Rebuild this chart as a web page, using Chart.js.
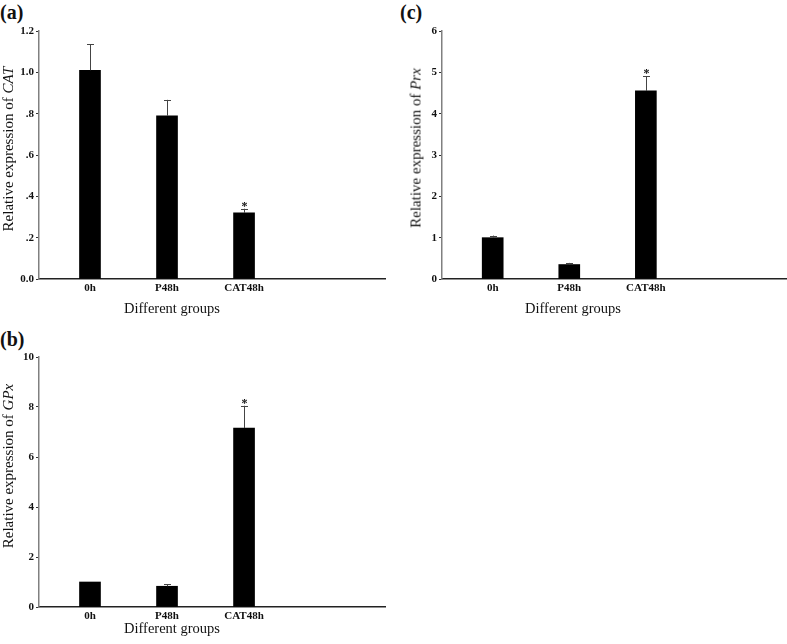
<!DOCTYPE html>
<html>
<head>
<meta charset="utf-8">
<script src="https://cdn.jsdelivr.net/npm/chart.js@4"></script>
<style>
  body {
    margin: 0;
    width: 787px;
    height: 644px;
    position: relative;
    overflow: hidden;
    background: #fff;
    color: #111;
    font-family: "Liberation Serif", "Times New Roman", serif;
  }
  canvas { position: absolute; }
  .panel { position: absolute; font-size: 20px; font-weight: bold; line-height: 1; }
  .xtitle {
    position: absolute; font-size: 14.5px; line-height: 1; white-space: nowrap;
    transform: translate(-50%, -50%);
  }
  .ytitle {
    position: absolute; font-size: 15px; line-height: 1; white-space: nowrap;
    transform: translate(-50%, -50%) rotate(-90deg);
  }
</style>
</head>
<body>
<div class="panel" style="left:0;top:2px">(a)</div>
<div class="panel" style="left:400px;top:2px">(c)</div>
<div class="panel" style="left:0;top:329px">(b)</div>

<canvas id="catChart" width="395" height="320" style="left:0;top:0"></canvas>
<canvas id="prxChart" width="387" height="320" style="left:400px;top:0"></canvas>
<canvas id="gpxChart" width="395" height="324" style="left:0;top:320px"></canvas>

<div class="ytitle" style="left:8px;top:149px">Relative expression of <i>CAT</i></div>
<div class="ytitle" style="left:416px;top:148px">Relative expression of <i>Prx</i></div>
<div class="ytitle" style="left:8px;top:466px">Relative expression of <i>GPx</i></div>

<div class="xtitle" style="left:172px;top:308px">Different groups</div>
<div class="xtitle" style="left:573px;top:308px">Different groups</div>
<div class="xtitle" style="left:172px;top:628px">Different groups</div>

<script>
// Data
const groups = ["0h", "P48h", "CAT48h"];
const marks = ["", "", "*"];

const catMean = [1.01, 0.79, 0.32];
const catErr = [0.125, 0.077, 0.02];
const catTicks = [0, 0.2, 0.4, 0.6, 0.8, 1.0, 1.2];
const catTickLabels = ["0.0", ".2", ".4", ".6", ".8", "1.0", "1.2"];

const prxMean = [1.0, 0.35, 4.55];
const prxErr = [0.05, 0.04, 0.36];
const prxTicks = [0, 1, 2, 3, 4, 5, 6];
const prxTickLabels = ["0", "1", "2", "3", "4", "5", "6"];

const gpxMean = [1.0, 0.83, 7.16];
const gpxErr = [0, 0.08, 0.89];
const gpxTicks = [0, 2, 4, 6, 8, 10];
const gpxTickLabels = ["0", "2", "4", "6", "8", "10"];

// upper error bars + significance marks
const errorBars = {
  id: "errorBars",
  afterDatasetsDraw(chart, args, opts) {
    const { ctx } = chart;
    const y = chart.scales.y;
    const points = chart.data.datasets[0].data;
    ctx.save();
    ctx.strokeStyle = "#444";
    ctx.lineWidth = 1;
    chart.getDatasetMeta(0).data.forEach((bar, i) => {
      const top = y.getPixelForValue(points[i].y + opts.errs[i]);
      const x = Math.round(bar.x) + 0.5;
      if (opts.errs[i] > 0) {
        ctx.beginPath();
        ctx.moveTo(x, bar.y);
        ctx.lineTo(x, top);
        ctx.moveTo(x - 3.5, Math.round(top) + 0.5);
        ctx.lineTo(x + 3.5, Math.round(top) + 0.5);
        ctx.stroke();
      }
      if (opts.marks[i]) {
        ctx.fillStyle = "#111";
        ctx.font = "bold 12px 'Liberation Serif'";
        ctx.textAlign = "center";
        ctx.textBaseline = "alphabetic";
        ctx.fillText(opts.marks[i], x, top + 1);
      }
    });
    ctx.restore();
  },
};

function makeChart(id, means, errs, ticks, tickLabels, yWidth, padTop, xHeight, padRight) {
  return new Chart(document.getElementById(id), {
    type: "bar",
    data: {
      datasets: [
        {
          data: means.map((v, i) => ({ x: i + 1, y: v })),
          backgroundColor: "#000",
          borderWidth: 0,
          barThickness: 21,
        },
      ],
    },
    plugins: [errorBars],
    options: {
      responsive: false,
      animation: false,
      layout: { padding: { top: padTop, right: padRight, left: 0, bottom: 0 } },
      plugins: {
        legend: { display: false },
        tooltip: { enabled: false },
        errorBars: { errs: errs, marks: marks },
      },
      scales: {
        x: {
          type: "linear",
          min: 0.338,
          max: 4.83,
          offset: false,
          grid: { display: false, drawTicks: false, offset: false },
          border: { display: true, color: "#222", width: 1.5 },
          afterBuildTicks: (axis) => {
            axis.ticks = groups.map((g, i) => ({ value: i + 1 }));
          },
          afterFit: (axis) => { axis.height = xHeight; },
          ticks: {
            color: "#111",
            padding: 3,
            maxRotation: 0,
            font: { family: "Liberation Serif", size: 11, weight: "bold" },
            callback: (v, i) => groups[i],
          },
        },
        y: {
          min: 0,
          max: ticks[ticks.length - 1],
          grid: { drawOnChartArea: false, drawTicks: true, tickLength: 3, color: "#333" },
          border: { display: true, color: "#808080", width: 1.5 },
          afterBuildTicks: (axis) => {
            axis.ticks = ticks.map((v) => ({ value: v }));
          },
          afterFit: (axis) => { axis.width = yWidth; },
          ticks: {
            color: "#111",
            padding: 2,
            font: { family: "Liberation Serif", size: 11, weight: "bold" },
            callback: (v, i) => tickLabels[i],
          },
        },
      },
    },
  });
}

// Init
makeChart("catChart", catMean, catErr, catTicks, catTickLabels, 39, 31, 41, 10);
makeChart("prxChart", prxMean, prxErr, prxTicks, prxTickLabels, 42, 31, 41, 1);
makeChart("gpxChart", gpxMean, gpxErr, gpxTicks, gpxTickLabels, 39, 37, 37, 10);
</script>
</body>
</html>
